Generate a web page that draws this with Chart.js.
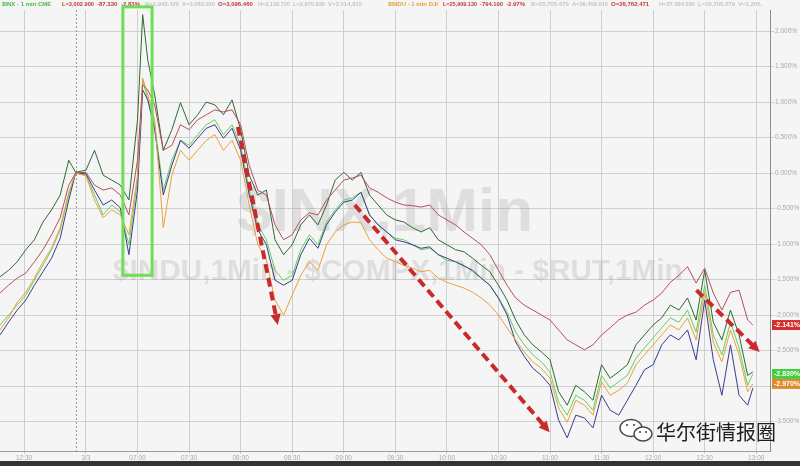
<!DOCTYPE html>
<html>
<head>
<meta charset="utf-8">
<script src="https://cdn.jsdelivr.net/npm/chart.js@4.4.1/dist/chart.umd.min.js"></script>
<style>
  html, body { margin: 0; padding: 0; background: #f5f5f5; }
</style>
</head>
<body>
<canvas id="c" width="800" height="466"></canvas>
<script>
// minutes from today's 06:30 open (previous session's last minutes are negative)
const minutes = [-50,-45,-40,-35,-30,-25,-20,-15,-10,-6,
  0,5,10,15,20,25,30,33,36,40,
  45,50,55,60,65,70,75,80,85,
  90,95,100,105,110,115,120,125,130,135,140,145,
  150,155,160,165,170,175,180,185,190,195,200,205,210,215,220,225,230,235,240,245,
  250,255,260,265,270,275,280,285,290,295,300,305,310,315,320,325,330,335,340,345,350,355,360,365,370,375,380,385,388];

// % change
const darkGreen = [-1.46,-1.37,-1.25,-1.08,-0.94,-0.69,-0.52,-0.31,0.18,0.01,
  0.04,0.32,-0.03,-0.10,-0.17,-0.38,0.75,2.23,1.59,1.10,
  0.32,0.61,0.99,0.68,0.82,1.00,0.96,0.82,1.03,
  0.61,-0.03,-0.31,-0.24,-0.94,-1.15,-1.01,-0.73,-0.59,-0.73,-0.45,-0.10,
  0.01,-0.10,0.01,-0.31,-0.45,-0.59,-0.66,-0.69,-0.77,-0.83,-0.77,-0.94,-1.01,-1.08,-1.11,-1.20,-1.30,-1.39,-1.58,-1.79,
  -2.07,-2.28,-2.42,-2.52,-2.63,-3.08,-3.27,-2.99,-3.08,-3.20,-2.70,-2.89,-2.80,-2.70,-2.42,-2.28,-2.14,-2.04,-1.86,-1.93,-1.76,-2.07,-1.37,-2.10,-2.35,-1.93,-2.28,-2.85,-2.80];
const rut = [-1.69,-1.58,-1.48,-1.41,-1.25,-1.08,-0.87,-0.63,-0.17,0.00,
  0.01,-0.17,-0.24,-0.21,-0.31,-0.59,0.18,1.24,1.17,0.96,
  0.32,0.39,0.68,0.61,0.75,0.82,0.89,0.86,0.89,
  0.68,0.11,-0.24,-0.31,-0.73,-0.94,-0.87,-0.66,-0.56,-0.59,-0.38,-0.24,
  -0.10,-0.07,-0.03,-0.21,-0.27,-0.35,-0.41,-0.45,-0.46,-0.48,-0.45,-0.59,-0.66,-0.73,-0.83,-0.92,-1.01,-1.15,-1.37,-1.58,
  -1.76,-1.86,-1.93,-2.00,-2.07,-2.21,-2.35,-2.42,-2.49,-2.42,-2.28,-2.18,-2.07,-2.00,-1.96,-1.86,-1.79,-1.69,-1.54,-1.44,-1.32,-1.55,-1.34,-1.69,-1.93,-1.68,-1.65,-2.07,-2.141];
const inx = [-2.14,-2.00,-1.86,-1.72,-1.51,-1.30,-1.08,-0.80,-0.31,0.00,
  -0.03,-0.31,-0.59,-0.45,-0.55,-1.01,-0.10,1.31,1.03,0.68,
  -0.24,0.18,0.46,0.39,0.54,0.68,0.75,0.54,0.68,
  0.39,-0.24,-0.73,-0.94,-1.37,-1.51,-1.44,-1.08,-0.87,-1.01,-0.69,-0.52,
  -0.38,-0.35,-0.27,-0.59,-0.73,-0.83,-0.92,-0.94,-1.01,-1.08,-1.06,-1.15,-1.23,-1.25,-1.30,-1.39,-1.48,-1.58,-1.76,-1.96,
  -2.24,-2.42,-2.56,-2.66,-2.80,-3.23,-3.41,-3.13,-3.20,-3.34,-2.85,-3.03,-2.94,-2.85,-2.61,-2.46,-2.32,-2.18,-2.04,-2.10,-1.93,-2.24,-1.58,-2.28,-2.56,-2.10,-2.46,-2.99,-2.83];
const compx = [-2.28,-2.10,-1.93,-1.79,-1.58,-1.39,-1.20,-0.92,-0.38,0.00,
  -0.01,-0.24,-0.45,-0.38,-0.49,-1.15,-0.24,1.17,1.03,0.61,
  -0.31,0.11,0.46,0.35,0.49,0.63,0.68,0.49,0.63,
  0.32,-0.31,-0.80,-1.01,-1.51,-1.58,-1.51,-1.15,-0.92,-1.06,-0.73,-0.55,
  -0.41,-0.38,-0.27,-0.59,-0.73,-0.83,-0.94,-0.97,-1.01,-1.06,-1.04,-1.15,-1.20,-1.25,-1.31,-1.37,-1.48,-1.58,-1.76,-2.00,
  -2.38,-2.58,-2.75,-2.85,-2.99,-3.48,-3.73,-3.41,-3.45,-3.59,-3.13,-3.34,-3.41,-3.20,-2.99,-2.77,-2.70,-2.42,-2.28,-2.35,-2.21,-2.63,-1.79,-2.63,-3.13,-2.42,-3.13,-3.27,-3.03];
const indu = [-2.21,-2.04,-1.82,-1.68,-1.48,-1.25,-1.06,-0.77,-0.27,0.00,
  -0.04,-0.38,-0.63,-0.52,-0.59,-0.87,-0.03,1.34,1.10,0.75,
  -0.77,-0.03,0.32,0.18,0.32,0.46,0.54,0.32,0.46,
  0.18,-0.45,-1.01,-1.23,-1.79,-2.00,-1.72,-1.44,-1.25,-1.37,-1.01,-0.83,
  -0.73,-0.69,-0.70,-0.94,-1.08,-1.20,-1.25,-1.30,-1.34,-1.39,-1.37,-1.48,-1.54,-1.58,-1.62,-1.68,-1.76,-1.86,-2.00,-2.18,
  -2.35,-2.52,-2.66,-2.75,-2.89,-3.31,-3.51,-3.20,-3.27,-3.41,-2.94,-3.13,-3.06,-2.96,-2.70,-2.56,-2.42,-2.28,-2.14,-2.21,-2.04,-2.35,-1.68,-2.38,-2.66,-2.21,-2.56,-3.08,-2.97];

const tickMinutes = [-36,0,30,60,90,120,150,180,210,240,270,300,330,360,390];
const tickLabels = ['12:30','3/3','07:00','07:30','08:00','08:30','09:00','09:30','10:00','10:30','11:00','11:30','12:00','12:30','13:00'];
const yTicks = [2,1.5,1,0.5,0,-0.5,-1,-1.5,-2,-2.5,-3,-3.5];

// end-of-line value tags
const endTags = [
  { text: '-2.141%', value: -2.141, bg: '#d3302f' },
  { text: '-2.830%', value: -2.83, bg: '#43cf3f' },
  { text: '-2.970%', value: -2.97, bg: '#e08a2e' }
];

// header quote line: [text, x, colour]
const header = [
  ['$INX - 1 min CME', 2, '#45b845'], ['L=3,002.900', 62, '#c2393b'], ['-87.330', 97, '#c2393b'], ['-2.83%', 121, '#c2393b'],
  ['B=2,942.420', 145, '#c4c4c4'], ['A=3,083.020', 182, '#c4c4c4'], ['O=3,096.460', 218, '#c2393b'],
  ['H=3,138.720', 258, '#c4c4c4'], ['L=2,970.830', 293, '#c4c4c4'], ['V=3,514,815', 328, '#c4c4c4'],
  ['$INDU - 1 min DJI', 388, '#e3a03c'], ['L=25,909.130', 443, '#c2393b'], ['-794.190', 480, '#c2393b'], ['-2.97%', 506, '#c2393b'],
  ['B=25,705.470', 531, '#c4c4c4'], ['A=26,408.910', 572, '#c4c4c4'], ['O=26,762.471', 611, '#c2393b'],
  ['H=27,084.590', 659, '#c4c4c4'], ['L=25,700.279', 698, '#c4c4c4'], ['V=1,205,112', 738, '#c4c4c4']
];

// annotations in data units: [minute, percent]
const boxCorners = [[21.5, 2.34], [38.5, -1.44]];
const arrows = [
  [[88.4, 0.65], [111.6, -2.14]],
  [[156.4, -0.45], [269.8, -3.65]],
  [[355.2, -1.65], [392.0, -2.52]]
];

function series(vals) {
  return minutes.map((m, i) => ({ x: m, y: vals[i] }));
}

const overlay = {
  id: 'overlay',
  beforeDraw(chart) {
    const ctx = chart.ctx;
    ctx.save();
    ctx.fillStyle = '#f5f5f5';
    ctx.fillRect(0, 0, chart.width, chart.height);
    ctx.restore();
  },
  beforeDatasetsDraw(chart) {
    const { ctx, scales: { x, y } } = chart;
    ctx.save();
    // previous-close separator
    ctx.strokeStyle = '#9a9a9a';
    ctx.setLineDash([2, 2]);
    ctx.lineWidth = 1;
    const sx = Math.round(x.getPixelForValue(-6)) + 0.5;
    ctx.beginPath(); ctx.moveTo(sx, chart.chartArea.top); ctx.lineTo(sx, chart.chartArea.bottom); ctx.stroke();
    ctx.setLineDash([]);
    // watermark
    ctx.fillStyle = 'rgba(150,150,150,0.24)';
    ctx.textBaseline = 'alphabetic';
    let size = 60;
    ctx.font = 'bold ' + size + 'px "Liberation Sans", Arial';
    size = size * 296 / ctx.measureText('$INX,1Min').width;
    ctx.font = 'bold ' + size + 'px "Liberation Sans", Arial';
    ctx.fillText('$INX,1Min', 237, 231);
    const line2 = '$INDU,1Min - $COMPX,1Min - $RUT,1Min';
    size = 40;
    ctx.font = 'bold ' + size + 'px "Liberation Sans", Arial';
    size = size * 570 / ctx.measureText(line2).width;
    ctx.font = 'bold ' + size + 'px "Liberation Sans", Arial';
    ctx.fillText(line2, 113, 280);
    ctx.restore();
  },
  afterDraw(chart) {
    const { ctx, scales: { x, y } } = chart;
    ctx.save();
    // header
    ctx.font = 'bold 6px "Liberation Sans", Arial';
    ctx.textBaseline = 'middle';
    ctx.beginPath(); ctx.rect(0, 0, 762, 10); ctx.clip();
    header.forEach(([t, hx, c], i) => {
      const next = i + 1 < header.length ? header[i + 1][1] : 800;
      ctx.fillStyle = c;
      ctx.fillText(t, hx, 4.5, next - hx - 3);
    });
    ctx.restore();

    ctx.save();
    // green box
    ctx.strokeStyle = '#6ede57';
    ctx.lineWidth = 3;
    const bx0 = x.getPixelForValue(boxCorners[0][0]), by0 = y.getPixelForValue(boxCorners[0][1]);
    const bx1 = x.getPixelForValue(boxCorners[1][0]), by1 = y.getPixelForValue(boxCorners[1][1]);
    ctx.strokeRect(bx0, by0, bx1 - bx0, by1 - by0);
    // dashed arrows
    arrows.forEach(([a, b]) => {
      const x0 = x.getPixelForValue(a[0]), y0 = y.getPixelForValue(a[1]);
      const x1 = x.getPixelForValue(b[0]), y1 = y.getPixelForValue(b[1]);
      const ang = Math.atan2(y1 - y0, x1 - x0);
      const hl = 12;
      ctx.strokeStyle = '#c92a2c';
      ctx.lineWidth = 4;
      ctx.setLineDash([9, 5]);
      ctx.beginPath();
      ctx.moveTo(x0, y0);
      ctx.lineTo(x1 - hl * 0.8 * Math.cos(ang), y1 - hl * 0.8 * Math.sin(ang));
      ctx.stroke();
      ctx.setLineDash([]);
      ctx.fillStyle = '#c92a2c';
      ctx.beginPath();
      ctx.moveTo(x1, y1);
      ctx.lineTo(x1 - hl * Math.cos(ang - 0.45), y1 - hl * Math.sin(ang - 0.45));
      ctx.lineTo(x1 - hl * Math.cos(ang + 0.45), y1 - hl * Math.sin(ang + 0.45));
      ctx.closePath(); ctx.fill();
    });
    // end tags
    ctx.font = 'bold 7px "Liberation Sans", Arial';
    ctx.textBaseline = 'middle';
    endTags.forEach(t => {
      const ty = y.getPixelForValue(t.value);
      ctx.fillStyle = t.bg;
      ctx.fillRect(772, ty - 5, 28, 10);
      ctx.fillStyle = '#ffffff';
      ctx.fillText(t.text, 774, ty + 0.5);
    });
    // wechat watermark
    ctx.lineWidth = 1.5;
    ctx.strokeStyle = '#4a4a4a';
    ctx.fillStyle = '#ffffff';
    ctx.beginPath(); ctx.ellipse(631, 428, 11, 8.5, 0, 0, Math.PI * 2); ctx.fill(); ctx.stroke();
    ctx.beginPath(); ctx.ellipse(643, 434, 9, 7, 0, 0, Math.PI * 2); ctx.fill(); ctx.stroke();
    ctx.fillStyle = '#4a4a4a';
    [[627, 425], [634, 425], [640, 432], [646, 432]].forEach(([ex, ey]) => {
      ctx.beginPath(); ctx.arc(ex, ey, 1.1, 0, Math.PI * 2); ctx.fill();
    });
    ctx.font = '20px "Noto Sans CJK SC"';
    ctx.textBaseline = 'middle';
    ctx.fillStyle = '#1e1e1e';
    ctx.fillText('华尔街情报圈', 656, 432);
    // bottom bar
    ctx.fillStyle = '#2f333a';
    ctx.fillRect(0, 461, 800, 5);
    ctx.restore();
  }
};

const chart = new Chart(document.getElementById('c'), {
  type: 'line',
  data: {
    datasets: [
      { label: '$RUT', data: series(rut), borderColor: '#b4505c' },
      { label: '$INDU', data: series(indu), borderColor: '#e9a23b' },
      { label: '$COMPX', data: series(compx), borderColor: '#3a3d8c' },
      { label: '$INX', data: series(inx), borderColor: '#62d25a' },
      { label: 'dark', data: series(darkGreen), borderColor: '#2e6a33' }
    ]
  },
  options: {
    responsive: false,
    animation: false,
    devicePixelRatio: 1,
    layout: { padding: { top: 10, left: 0, right: 0, bottom: 0 } },
    elements: { point: { radius: 0 }, line: { borderWidth: 1, tension: 0 } },
    plugins: { legend: { display: false }, tooltip: { enabled: false } },
    scales: {
      x: {
        type: 'linear', min: -50, max: 398,
        afterBuildTicks: s => { s.ticks = tickMinutes.map(v => ({ value: v })); },
        afterFit: s => { s.height = 15; },
        ticks: {
          autoSkip: false, maxRotation: 0, padding: 0,
          font: { size: 6.5, family: '"Liberation Sans", Arial' }, color: '#a9a9a9',
          callback: v => tickLabels[tickMinutes.indexOf(v)]
        },
        grid: { color: '#cfcfcf', tickLength: 3 },
        border: { color: '#9c9c9c' }
      },
      y: {
        position: 'right', min: -3.915, max: 2.296,
        afterBuildTicks: s => { s.ticks = yTicks.map(v => ({ value: v })); },
        afterFit: s => { s.width = 30; },
        ticks: {
          padding: 1,
          font: { size: 6.5, family: '"Liberation Sans", Arial' }, color: '#a9a9a9',
          callback: v => v.toFixed(3) + '%'
        },
        grid: { color: '#cfcfcf', tickLength: 4 },
        border: { color: '#8c8c8c' }
      }
    }
  },
  plugins: [overlay]
});
</script>
</body>
</html>
